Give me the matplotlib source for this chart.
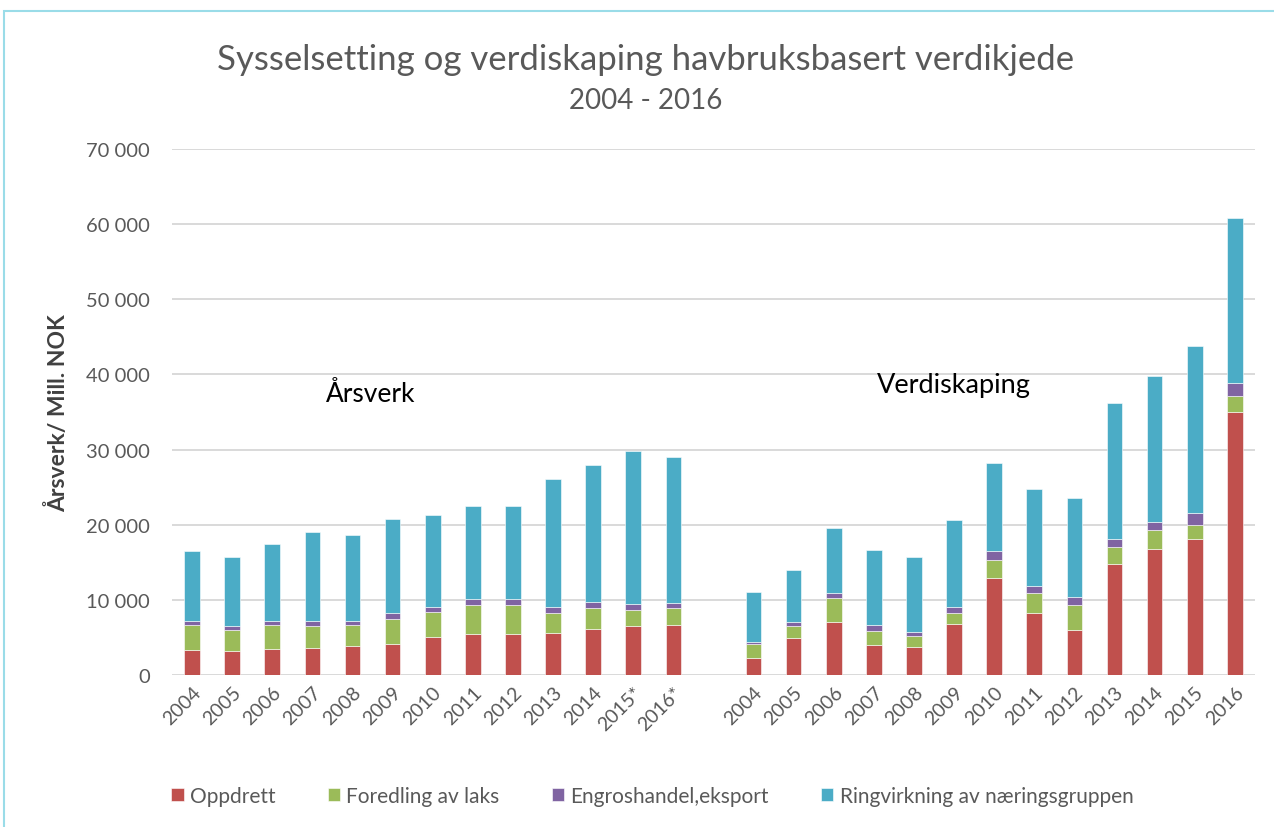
import matplotlib.pyplot as plt
import numpy as np
from matplotlib import patches

plt.rcParams["font.family"] = ["Lato", "DejaVu Sans"]

# Årsverk (left group) 2004 - 2016*
years_arsverk = ["2004", "2005", "2006", "2007", "2008", "2009", "2010",
                 "2011", "2012", "2013", "2014", "2015*", "2016*"]
arsverk_oppdrett = [3300, 3200, 3400, 3650, 3900, 4150, 5100,
                    5500, 5400, 5650, 6150, 6550, 6700]
arsverk_foredling = [3300, 2850, 3250, 2900, 2750, 3350, 3250,
                     3800, 3850, 2650, 2700, 2100, 2200]
arsverk_engros = [550, 500, 530, 570, 580, 700, 750,
                  750, 850, 800, 800, 750, 700]
arsverk_ring = [9300, 9150, 10300, 11950, 11400, 12600, 12200,
                12400, 12400, 16950, 18300, 20450, 19450]

# Verdiskaping (right group) 2004 - 2016, mill. NOK
years_verdi = ["2004", "2005", "2006", "2007", "2008", "2009", "2010",
               "2011", "2012", "2013", "2014", "2015", "2016"]
verdi_oppdrett = [2300, 4900, 7000, 4050, 3700, 6750, 12850,
                  8250, 6000, 14800, 16800, 18150, 35000]
verdi_foredling = [1800, 1650, 3250, 1850, 1450, 1550, 2450,
                   2600, 3350, 2200, 2450, 1850, 2150]
verdi_engros = [350, 550, 700, 750, 600, 800, 1150,
                1050, 1050, 1100, 1150, 1550, 1650]
verdi_ring = [6550, 6850, 8550, 10050, 9950, 11500, 11750,
              12850, 13100, 18100, 19400, 22250, 22050]

series_names = ["Oppdrett", "Foredling av laks", "Engroshandel,eksport",
                "Ringvirkning av næringsgruppen"]
colors = ["#C0504D", "#9BBB59", "#8064A2", "#4BACC6"]

# One empty slot between the two groups
labels = years_arsverk + [""] + years_verdi
gap = [0]
stacks = [
    np.array(arsverk_oppdrett + gap + verdi_oppdrett),
    np.array(arsverk_foredling + gap + verdi_foredling),
    np.array(arsverk_engros + gap + verdi_engros),
    np.array(arsverk_ring + gap + verdi_ring),
]
x = np.arange(len(labels))

fig = plt.figure(figsize=(12.74, 8.28), dpi=100)
ax = fig.add_axes([0.135, 0.1836, 0.85, 0.6352])

bottom = np.zeros(len(labels))
for name, vals, col in zip(series_names, stacks, colors):
    ax.bar(x, vals, 0.39, bottom=bottom, color=col, label=name,
           edgecolor="white", linewidth=0.4)
    bottom = bottom + vals

ax.set_xlim(-0.5, len(labels) - 0.5)
ax.set_ylim(0, 70000)
ax.set_yticks(np.arange(0, 70001, 10000))
ax.set_yticklabels([f"{v:,}".replace(",", " ") for v in range(0, 70001, 10000)])
ax.yaxis.grid(True, color="#D9D9D9", linewidth=1.4)
ax.set_axisbelow(True)
for s in ax.spines.values():
    s.set_visible(False)
ax.tick_params(axis="y", length=0, labelsize=14.5, labelcolor="#595959", pad=16)
ax.set_xticks(x)
ax.set_xticklabels(labels, rotation=45, ha="right", rotation_mode="anchor")
ax.tick_params(axis="x", length=0, labelsize=14, labelcolor="#595959", pad=6)

ax.set_ylabel("Årsverk/ Mill. NOK", fontsize=16.5, fontweight="bold",
              color="#404040", labelpad=12)

ax.text(4.45, 37500, "Årsverk", fontsize=19, color="black", ha="center", va="center")
ax.text(19.0, 38700, "Verdiskaping", fontsize=19.5, color="black", ha="center", va="center")

fig.text(0.507, 0.928, "Sysselsetting og verdiskaping havbruksbasert verdikjede",
         fontsize=25, color="#595959", ha="center", va="center")
fig.text(0.507, 0.878, "2004 - 2016", fontsize=20, color="#595959",
         ha="center", va="center")

fig.legend(loc="center", bbox_to_anchor=(0.512, 0.038), ncol=4, frameon=False,
           fontsize=15, labelcolor="#595959", handlelength=0.6, handleheight=0.6,
           handletextpad=0.3, columnspacing=2.5)

# chart frame (partially visible at top and left)
fig.patches.append(patches.Rectangle((4 / 1274, -0.05), 1.1, 1 - 12 / 828 + 0.05,
                                     transform=fig.transFigure, fill=False,
                                     edgecolor="#9ADCE8", linewidth=1.5))

fig.savefig("out.png", dpi=100)
